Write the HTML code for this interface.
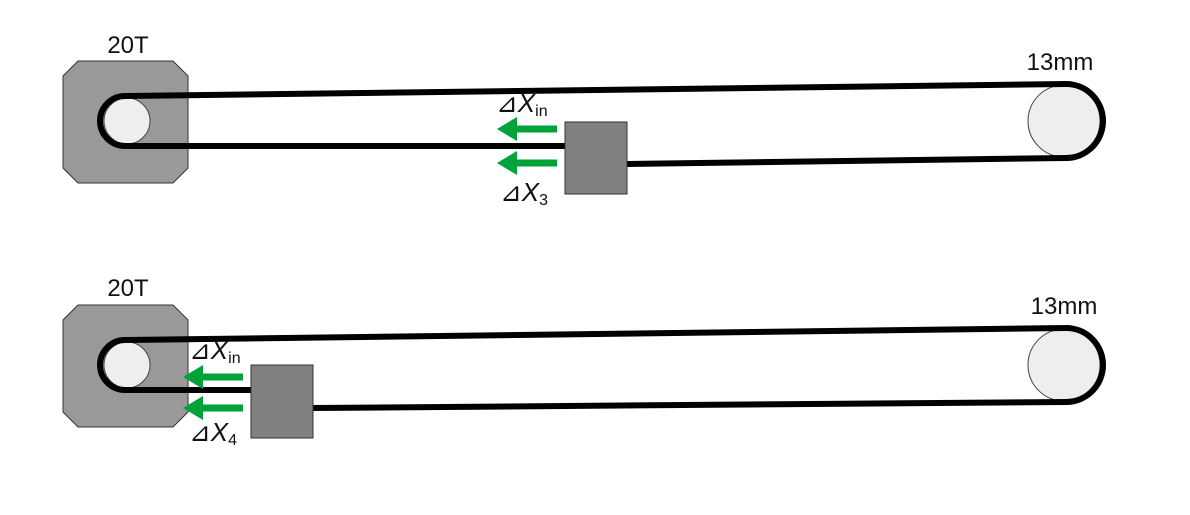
<!DOCTYPE html>
<html><head><meta charset="utf-8"><style>
html,body{margin:0;padding:0;background:#fff;}
svg{display:block;font-family:"Liberation Sans","DejaVu Sans",sans-serif;}
</style></head><body>
<svg width="1190" height="515" viewBox="0 0 1190 515">
<defs>
<g id="arrowL"><polygon points="0,0 20,-12 20,-3.5 60,-3.5 60,3.5 20,3.5 20,12" fill="#00a23a"/></g>
</defs>
<!-- TOP DIAGRAM -->
<g>
<text x="128" y="53" font-size="24" text-anchor="middle" fill="#111">20T</text>
<polygon points="78,61 173,61 188,76 188,168 173,183 78,183 63,168 63,76" fill="#999" stroke="#333" stroke-width="1"/>
<circle cx="127" cy="121" r="23" fill="#eee" stroke="#444" stroke-width="1"/>
<circle cx="1064" cy="121" r="36" fill="#eee" stroke="#444" stroke-width="1"/>
<g fill="none" stroke="#000" stroke-width="6">
<path d="M125,96 A25,25 0 0 0 125,146"/>
<line x1="125" y1="96" x2="1066" y2="84"/>
<path d="M1066,84 A37,37 0 0 1 1066,158"/>
<line x1="125" y1="146" x2="565" y2="146"/>
<line x1="627" y1="164" x2="1066" y2="158"/>
</g>
<rect x="565" y="122" width="62" height="72" fill="#808080" stroke="#333" stroke-width="1"/>
<use href="#arrowL" x="497" y="129"/>
<use href="#arrowL" x="497" y="163"/>
<text x="496" y="112" font-size="26" fill="#111">⊿<tspan font-style="italic">X</tspan><tspan font-size="16" dy="4">in</tspan></text>
<text x="500" y="201" font-size="26" fill="#111">⊿<tspan font-style="italic">X</tspan><tspan font-size="16" dy="4">3</tspan></text>
<text x="1060" y="70" font-size="24" text-anchor="middle" fill="#111">13mm</text>
</g>
<!-- BOTTOM DIAGRAM -->
<g>
<text x="128" y="296" font-size="24" text-anchor="middle" fill="#111">20T</text>
<polygon points="78,305 173,305 188,320 188,412 173,427 78,427 63,412 63,320" fill="#999" stroke="#333" stroke-width="1"/>
<circle cx="127" cy="365" r="23" fill="#eee" stroke="#444" stroke-width="1"/>
<circle cx="1064" cy="365" r="36" fill="#eee" stroke="#444" stroke-width="1"/>
<g fill="none" stroke="#000" stroke-width="6">
<path d="M125,340 A25,25 0 0 0 125,390"/>
<line x1="125" y1="340" x2="1066" y2="328"/>
<path d="M1066,328 A37,37 0 0 1 1066,402"/>
<line x1="125" y1="390" x2="251" y2="390"/>
<line x1="313" y1="408" x2="1066" y2="402"/>
</g>
<rect x="251" y="365" width="62" height="73" fill="#808080" stroke="#333" stroke-width="1"/>
<use href="#arrowL" x="183" y="377"/>
<use href="#arrowL" x="183" y="408"/>
<text x="189" y="359" font-size="26" fill="#111">⊿<tspan font-style="italic">X</tspan><tspan font-size="16" dy="4">in</tspan></text>
<text x="189" y="441" font-size="26" fill="#111">⊿<tspan font-style="italic">X</tspan><tspan font-size="16" dy="4">4</tspan></text>
<text x="1064" y="314" font-size="24" text-anchor="middle" fill="#111">13mm</text>
</g>
</svg>
</body></html>
